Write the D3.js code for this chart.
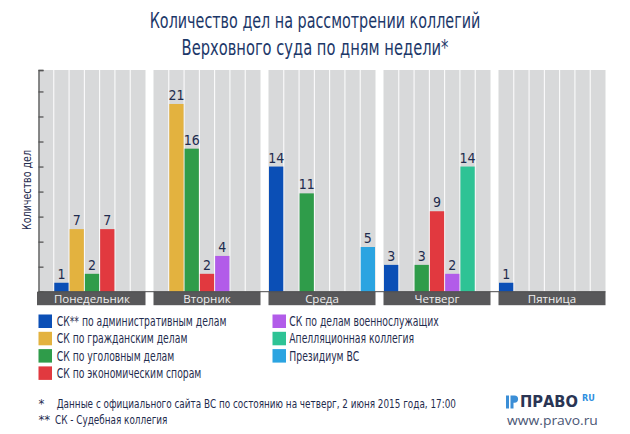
<!DOCTYPE html>
<html>
<head>
<meta charset="utf-8">
<script src="https://cdn.jsdelivr.net/npm/d3@7/dist/d3.min.js"></script>
<style>
  html, body { margin: 0; padding: 0; background: #fff; }
  svg { display: block; }
</style>
</head>
<body>
<svg id="chart" width="630" height="434"></svg>
<script>
// ---------- DATA ----------
const titleLines = ["Количество дел на рассмотрении коллегий", "Верховного суда по дням недели*"];
const yAxisTitle = "Количество дел";
const days = ["Понедельник", "Вторник", "Среда", "Четверг", "Пятница"];
const seriesNames = [
  "СК** по административным делам",
  "СК по гражданским делам",
  "СК по уголовным делам",
  "СК по экономическим спорам",
  "СК по делам военнослужащих",
  "Апелляционная коллегия",
  "Президиум ВС"
];
const seriesColors = ["#0b4fb6", "#e3b23f", "#2f9c4a", "#e1393f", "#b25ce9", "#2ec395", "#2ba4e1"];
// values per series, by day (null = no bar)
const valAdmin    = [1, null, 14, 3, 1];
const valCivil    = [7, 21, null, null, null];
const valCriminal = [2, 16, 11, 3, null];
const valEconomic = [7, 2, null, 9, null];
const valMilitary = [null, 4, null, 2, null];
const valAppeal   = [null, null, null, 14, null];
const valPresid   = [null, null, 5, null, null];
const seriesValues = [valAdmin, valCivil, valCriminal, valEconomic, valMilitary, valAppeal, valPresid];
// the slot where the first series starts, per day (Monday's bars start one slot later)
const daySlotShift = [1, 0, 0, 0, 0];
const yTickValues = [0, 2.8, 5.6, 8.4, 11.2, 14, 16.8, 19.6, 22.4, 24.8];
const yMax = 24.8;
const footnotes = [
  ["*", "Данные с официального сайта ВС по состоянию на четверг, 2 июня 2015 года, 17:00"],
  ["**", "СК - Судебная коллегия"]
];
const logoText = "ПРАВО";
const logoSup = "RU";
const logoUrl = "www.pravo.ru";

// ---------- LAYOUT ----------
const svg = d3.select("#chart");
const narrow = "'Liberation Sans Narrow', 'DejaVu Sans Condensed', 'Arial Narrow', sans-serif";
const navy = "#1f2c4e";

// place a text at (x, y) squeezed horizontally to width w (if w given) via a transform
function squeezed(parent, x, yy, str, opts, w, anchor) {
  const g = parent.append("g");
  const t = g.append("text")
    .attr("font-family", opts.family || narrow)
    .attr("font-size", opts.size)
    .attr("font-weight", opts.weight || "normal")
    .attr("fill", opts.fill || navy)
    .attr("text-anchor", anchor || "start")
    .text(str);
  const L = t.node().getComputedTextLength();
  const k = w ? w / L : 1;
  g.attr("transform", `translate(${x},${yy}) scale(${k},1)`);
  return { g, t, L };
}

const plotTop = 70, plotBottom = 291.7;
const x0 = d3.scaleBand().domain(days).range([38.5, 605.5]).paddingInner(8 / 115).paddingOuter(0);
const slots = d3.range(7);
const x1 = d3.scaleBand().domain(slots).range([0, x0.bandwidth()]);
const y = d3.scaleLinear().domain([0, yMax]).range([plotBottom, plotTop]);

// Title
const title = svg.append("g");
titleLines.forEach((t, i) => {
  squeezed(title, 315, i === 0 ? 28 : 55, t, { size: 21, fill: "#1d3869" }, i === 0 ? 331 : 267, "middle");
});

// Panels
const panels = svg.append("g").selectAll("g.panel").data(days).join("g")
  .attr("class", "panel")
  .attr("transform", d => `translate(${x0(d)},0)`);

panels.append("rect")
  .attr("x", 0).attr("y", plotTop)
  .attr("width", x0.bandwidth()).attr("height", plotBottom - plotTop)
  .attr("fill", "#d8d9da");

panels.selectAll("line.sep").data(slots.slice(1)).join("line")
  .attr("class", "sep")
  .attr("x1", s => x1(s)).attr("x2", s => x1(s))
  .attr("y1", plotTop).attr("y2", plotBottom)
  .attr("stroke", "#ffffff").attr("stroke-width", 1);

// Bars
const barData = [];
days.forEach((d, di) => {
  seriesValues.forEach((vals, si) => {
    const v = vals[di];
    if (v !== null && v !== undefined) barData.push({ day: d, di, si, v });
  });
});

const bars = svg.append("g");
bars.selectAll("rect").data(barData).join("rect")
  .attr("x", d => x0(d.day) + x1(d.si + daySlotShift[d.di]) + 0.5)
  .attr("width", x1.bandwidth() - 1)
  .attr("y", d => y(d.v))
  .attr("height", d => plotBottom - y(d.v))
  .attr("fill", d => seriesColors[d.si]);

bars.selectAll("text").data(barData).join("text")
  .attr("x", d => x0(d.day) + x1(d.si + daySlotShift[d.di]) + x1.bandwidth() / 2)
  .attr("y", d => y(d.v) - 4)
  .attr("text-anchor", "middle")
  .attr("font-family", narrow).attr("font-size", 14)
  .attr("fill", navy)
  .text(d => d.v);

// Baseline
svg.append("line")
  .attr("x1", 38.5).attr("x2", 605.5)
  .attr("y1", plotBottom).attr("y2", plotBottom)
  .attr("stroke", "#4a4a4c").attr("stroke-width", 1);

// Day label bars
panels.append("rect")
  .attr("x", (d, i) => i === 0 ? -1.5 : 0).attr("y", plotBottom)
  .attr("width", (d, i) => x0.bandwidth() + (i === 0 ? 1.5 : 0)).attr("height", 13.5)
  .attr("fill", "#58585a");
panels.append("text")
  .attr("x", x0.bandwidth() / 2).attr("y", 302.8)
  .attr("text-anchor", "middle")
  .attr("font-family", "'Open Sans', 'DejaVu Sans', sans-serif").attr("font-size", 11.5)
  .attr("fill", "#efefef")
  .text(d => d);

// Y axis
const yAxis = d3.axisRight(y).tickValues(yTickValues).tickSize(5).tickFormat("");
const yg = svg.append("g").attr("transform", "translate(38.5,0)").call(yAxis);
yg.select(".domain").attr("stroke", "#555").attr("stroke-width", 1.3);
yg.selectAll(".tick line").attr("stroke", "#555").attr("stroke-width", 1.3);

svg.append("text")
  .attr("transform", `translate(31,${(150 + 230) / 2}) rotate(-90)`)
  .attr("text-anchor", "middle")
  .attr("font-family", narrow).attr("font-size", 13)
  .attr("fill", navy)
  .attr("textLength", 80).attr("lengthAdjust", "spacingAndGlyphs")
  .text(yAxisTitle);

// Legend
const legend = svg.append("g");
const legendCols = [{ sx: 38.5, tx: 56.7, items: [0, 1, 2, 3] }, { sx: 272.5, tx: 289.3, items: [4, 5, 6] }];
const rowY = d3.scaleLinear().domain([0, 1]).range([314.5, 331.8]);
// squeeze factor from the first label's measured width in the reference
const probe = svg.append("text").attr("font-family", narrow).attr("font-size", 14).text(seriesNames[0]);
const lk = 170 / probe.node().getComputedTextLength();
probe.remove();
legendCols.forEach(col => {
  col.items.forEach((si, r) => {
    legend.append("rect")
      .attr("x", col.sx).attr("y", rowY(r))
      .attr("width", 13.5).attr("height", 13.5)
      .attr("fill", seriesColors[si]);
    const s = squeezed(legend, col.tx, rowY(r) + 11.5, seriesNames[si], { size: 14 });
    s.g.attr("transform", `translate(${col.tx},${rowY(r) + 11.5}) scale(${lk},1)`);
  });
});

// Footnotes
const foot = svg.append("g");
const probe2 = svg.append("text").attr("font-family", narrow).attr("font-size", 13).text(footnotes[0][1]);
const fk = 400 / probe2.node().getComputedTextLength();
probe2.remove();
footnotes.forEach((f, i) => {
  const yy = i === 0 ? 408 : 423.5;
  foot.append("text").attr("x", 38.5).attr("y", yy)
    .attr("font-family", narrow).attr("font-size", 13).attr("fill", navy).text(f[0]);
  const s = squeezed(foot, i === 0 ? 56.7 : 55, yy, f[1], { size: 13 });
  s.g.attr("transform", `translate(${i === 0 ? 56.7 : 55},${yy}) scale(${fk},1)`);
});

// Logo
const logo = svg.append("g");
logo.append("path")
  .attr("d", "M506,395.5 h3 v13 h-3 Z M510.5,395.5 h4 a3.2,3.2 0 0 1 0,7.2 h-1 v5.8 h-3 Z")
  .attr("fill", "#3b8ed6");
squeezed(logo, 520, 407, logoText, { size: 16.5, weight: "bold", fill: "#2a3554" }, 58);
logo.append("text").attr("x", 582).attr("y", 401)
  .attr("font-family", narrow).attr("font-weight", "bold").attr("font-size", 9)
  .attr("fill", "#2f8fe0")
  .text(logoSup);
squeezed(logo, 507, 425, logoUrl, { size: 13, family: "'Open Sans', 'DejaVu Sans', sans-serif", fill: "#4a5674" }, 91);
</script>
</body>
</html>
